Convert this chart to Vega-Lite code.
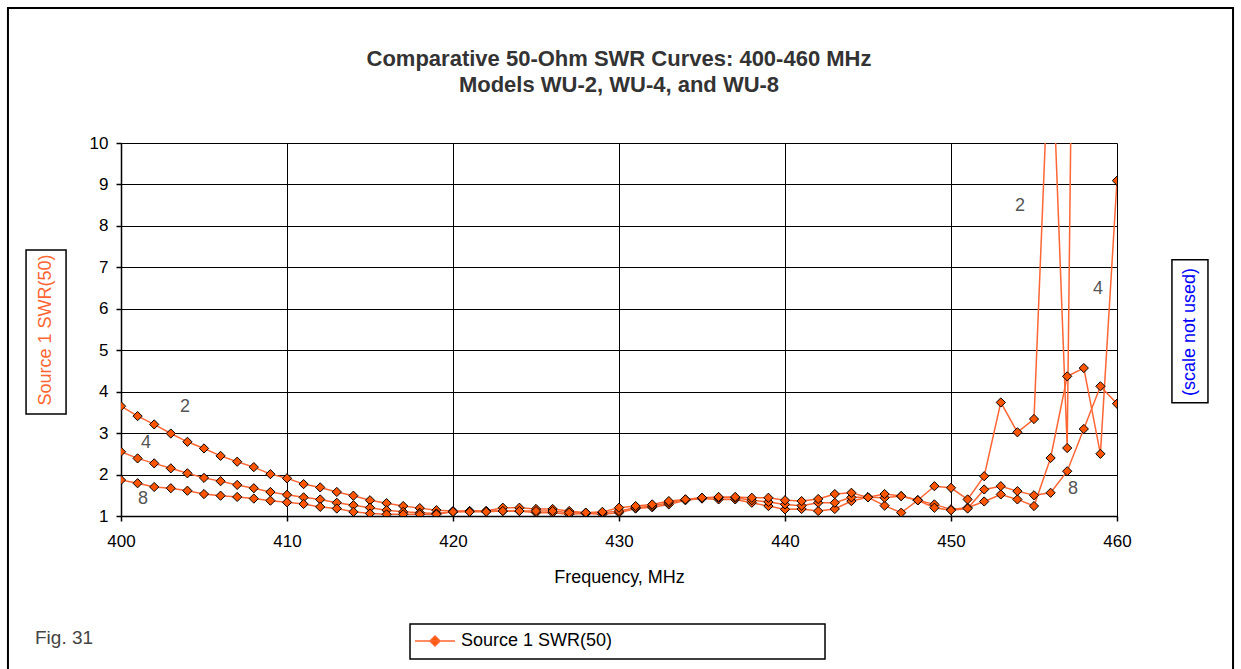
{
  "$schema": "https://vega.github.io/schema/vega-lite/v6.json",
  "autosize": {"type": "none"},
  "width": 996,
  "height": 373,
  "padding": {"left": 121, "top": 143, "right": 124, "bottom": 153},
  "background": "white",
  "title": {
    "text": ["Comparative 50-Ohm SWR Curves: 400-460 MHz", "Models WU-2, WU-4, and WU-8"],
    "font": "Liberation Sans",
    "fontSize": 22,
    "fontWeight": "bold",
    "color": "#333333",
    "lineHeight": 26,
    "anchor": "middle",
    "offset": -90
  },
  "config": {
    "view": {"stroke": null},
    "font": "Liberation Sans",
    "axis": {
      "labelFont": "Liberation Sans",
      "titleFont": "Liberation Sans",
      "labelFontSize": 17,
      "titleFontSize": 18,
      "titleFontWeight": "normal",
      "labelColor": "#000000",
      "titleColor": "#000000",
      "domainColor": "#000000",
      "tickColor": "#000000",
      "gridColor": "#000000",
      "gridOpacity": 1,
      "gridWidth": 1,
      "domainWidth": 1.5,
      "tickWidth": 1.5,
      "tickSize": 5,
      "labelFlush": false
    }
  },
  "datasets": {
    "swr": [
      {"model": "WU-2", "freq": 400, "swr": 3.65}, {"model": "WU-2", "freq": 401, "swr": 3.41}, {"model": "WU-2", "freq": 402, "swr": 3.21}, {"model": "WU-2", "freq": 403, "swr": 2.99}, {"model": "WU-2", "freq": 404, "swr": 2.79}, {"model": "WU-2", "freq": 405, "swr": 2.63}, {"model": "WU-2", "freq": 406, "swr": 2.45}, {"model": "WU-2", "freq": 407, "swr": 2.31}, {"model": "WU-2", "freq": 408, "swr": 2.18}, {"model": "WU-2", "freq": 409, "swr": 2.01},
      {"model": "WU-2", "freq": 410, "swr": 1.91}, {"model": "WU-2", "freq": 411, "swr": 1.77}, {"model": "WU-2", "freq": 412, "swr": 1.69}, {"model": "WU-2", "freq": 413, "swr": 1.58}, {"model": "WU-2", "freq": 414, "swr": 1.49}, {"model": "WU-2", "freq": 415, "swr": 1.38}, {"model": "WU-2", "freq": 416, "swr": 1.31}, {"model": "WU-2", "freq": 417, "swr": 1.24}, {"model": "WU-2", "freq": 418, "swr": 1.19}, {"model": "WU-2", "freq": 419, "swr": 1.14},
      {"model": "WU-2", "freq": 420, "swr": 1.12}, {"model": "WU-2", "freq": 421, "swr": 1.12}, {"model": "WU-2", "freq": 422, "swr": 1.12}, {"model": "WU-2", "freq": 423, "swr": 1.12}, {"model": "WU-2", "freq": 424, "swr": 1.12}, {"model": "WU-2", "freq": 425, "swr": 1.08}, {"model": "WU-2", "freq": 426, "swr": 1.08}, {"model": "WU-2", "freq": 427, "swr": 1.04}, {"model": "WU-2", "freq": 428, "swr": 1.06}, {"model": "WU-2", "freq": 429, "swr": 1.04},
      {"model": "WU-2", "freq": 430, "swr": 1.08}, {"model": "WU-2", "freq": 431, "swr": 1.18}, {"model": "WU-2", "freq": 432, "swr": 1.21}, {"model": "WU-2", "freq": 433, "swr": 1.28}, {"model": "WU-2", "freq": 434, "swr": 1.38}, {"model": "WU-2", "freq": 435, "swr": 1.42}, {"model": "WU-2", "freq": 436, "swr": 1.4}, {"model": "WU-2", "freq": 437, "swr": 1.4}, {"model": "WU-2", "freq": 438, "swr": 1.32}, {"model": "WU-2", "freq": 439, "swr": 1.24},
      {"model": "WU-2", "freq": 440, "swr": 1.16}, {"model": "WU-2", "freq": 441, "swr": 1.17}, {"model": "WU-2", "freq": 442, "swr": 1.12}, {"model": "WU-2", "freq": 443, "swr": 1.17}, {"model": "WU-2", "freq": 444, "swr": 1.36}, {"model": "WU-2", "freq": 445, "swr": 1.45}, {"model": "WU-2", "freq": 446, "swr": 1.25}, {"model": "WU-2", "freq": 447, "swr": 1.08}, {"model": "WU-2", "freq": 448, "swr": 1.38}, {"model": "WU-2", "freq": 449, "swr": 1.72},
      {"model": "WU-2", "freq": 450, "swr": 1.68}, {"model": "WU-2", "freq": 451, "swr": 1.4}, {"model": "WU-2", "freq": 452, "swr": 1.96}, {"model": "WU-2", "freq": 453, "swr": 3.74}, {"model": "WU-2", "freq": 454, "swr": 3.02}, {"model": "WU-2", "freq": 455, "swr": 3.34}, {"model": "WU-2", "freq": 456, "swr": 13.2}, {"model": "WU-2", "freq": 457, "swr": 2.64}, {"model": "WU-2", "freq": 458, "swr": 38}, {"model": "WU-2", "freq": 459, "swr": 40},
      {"model": "WU-2", "freq": 460, "swr": 42},
      {"model": "WU-4", "freq": 400, "swr": 2.55}, {"model": "WU-4", "freq": 401, "swr": 2.39}, {"model": "WU-4", "freq": 402, "swr": 2.27}, {"model": "WU-4", "freq": 403, "swr": 2.15}, {"model": "WU-4", "freq": 404, "swr": 2.03}, {"model": "WU-4", "freq": 405, "swr": 1.92}, {"model": "WU-4", "freq": 406, "swr": 1.84}, {"model": "WU-4", "freq": 407, "swr": 1.75}, {"model": "WU-4", "freq": 408, "swr": 1.67}, {"model": "WU-4", "freq": 409, "swr": 1.58},
      {"model": "WU-4", "freq": 410, "swr": 1.51}, {"model": "WU-4", "freq": 411, "swr": 1.45}, {"model": "WU-4", "freq": 412, "swr": 1.4}, {"model": "WU-4", "freq": 413, "swr": 1.32}, {"model": "WU-4", "freq": 414, "swr": 1.26}, {"model": "WU-4", "freq": 415, "swr": 1.2}, {"model": "WU-4", "freq": 416, "swr": 1.14}, {"model": "WU-4", "freq": 417, "swr": 1.1}, {"model": "WU-4", "freq": 418, "swr": 1.08}, {"model": "WU-4", "freq": 419, "swr": 1.06},
      {"model": "WU-4", "freq": 420, "swr": 1.1}, {"model": "WU-4", "freq": 421, "swr": 1.12}, {"model": "WU-4", "freq": 422, "swr": 1.12}, {"model": "WU-4", "freq": 423, "swr": 1.2}, {"model": "WU-4", "freq": 424, "swr": 1.2}, {"model": "WU-4", "freq": 425, "swr": 1.17}, {"model": "WU-4", "freq": 426, "swr": 1.17}, {"model": "WU-4", "freq": 427, "swr": 1.12}, {"model": "WU-4", "freq": 428, "swr": 1.08}, {"model": "WU-4", "freq": 429, "swr": 1.08},
      {"model": "WU-4", "freq": 430, "swr": 1.12}, {"model": "WU-4", "freq": 431, "swr": 1.2}, {"model": "WU-4", "freq": 432, "swr": 1.24}, {"model": "WU-4", "freq": 433, "swr": 1.32}, {"model": "WU-4", "freq": 434, "swr": 1.4}, {"model": "WU-4", "freq": 435, "swr": 1.44}, {"model": "WU-4", "freq": 436, "swr": 1.44}, {"model": "WU-4", "freq": 437, "swr": 1.44}, {"model": "WU-4", "freq": 438, "swr": 1.38}, {"model": "WU-4", "freq": 439, "swr": 1.34},
      {"model": "WU-4", "freq": 440, "swr": 1.28}, {"model": "WU-4", "freq": 441, "swr": 1.25}, {"model": "WU-4", "freq": 442, "swr": 1.32}, {"model": "WU-4", "freq": 443, "swr": 1.32}, {"model": "WU-4", "freq": 444, "swr": 1.45}, {"model": "WU-4", "freq": 445, "swr": 1.45}, {"model": "WU-4", "freq": 446, "swr": 1.44}, {"model": "WU-4", "freq": 447, "swr": 1.48}, {"model": "WU-4", "freq": 448, "swr": 1.38}, {"model": "WU-4", "freq": 449, "swr": 1.28},
      {"model": "WU-4", "freq": 450, "swr": 1.16}, {"model": "WU-4", "freq": 451, "swr": 1.2}, {"model": "WU-4", "freq": 452, "swr": 1.35}, {"model": "WU-4", "freq": 453, "swr": 1.52}, {"model": "WU-4", "freq": 454, "swr": 1.4}, {"model": "WU-4", "freq": 455, "swr": 1.24}, {"model": "WU-4", "freq": 456, "swr": 2.4}, {"model": "WU-4", "freq": 457, "swr": 4.37}, {"model": "WU-4", "freq": 458, "swr": 4.57}, {"model": "WU-4", "freq": 459, "swr": 2.5},
      {"model": "WU-4", "freq": 460, "swr": 9.09},
      {"model": "WU-8", "freq": 400, "swr": 1.87}, {"model": "WU-8", "freq": 401, "swr": 1.79}, {"model": "WU-8", "freq": 402, "swr": 1.7}, {"model": "WU-8", "freq": 403, "swr": 1.67}, {"model": "WU-8", "freq": 404, "swr": 1.61}, {"model": "WU-8", "freq": 405, "swr": 1.53}, {"model": "WU-8", "freq": 406, "swr": 1.49}, {"model": "WU-8", "freq": 407, "swr": 1.46}, {"model": "WU-8", "freq": 408, "swr": 1.42}, {"model": "WU-8", "freq": 409, "swr": 1.37},
      {"model": "WU-8", "freq": 410, "swr": 1.33}, {"model": "WU-8", "freq": 411, "swr": 1.29}, {"model": "WU-8", "freq": 412, "swr": 1.22}, {"model": "WU-8", "freq": 413, "swr": 1.18}, {"model": "WU-8", "freq": 414, "swr": 1.1}, {"model": "WU-8", "freq": 415, "swr": 1.06}, {"model": "WU-8", "freq": 416, "swr": 1.04}, {"model": "WU-8", "freq": 417, "swr": 1.04}, {"model": "WU-8", "freq": 418, "swr": 1.04}, {"model": "WU-8", "freq": 419, "swr": 1.04},
      {"model": "WU-8", "freq": 420, "swr": 1.1}, {"model": "WU-8", "freq": 421, "swr": 1.1}, {"model": "WU-8", "freq": 422, "swr": 1.1}, {"model": "WU-8", "freq": 423, "swr": 1.12}, {"model": "WU-8", "freq": 424, "swr": 1.12}, {"model": "WU-8", "freq": 425, "swr": 1.12}, {"model": "WU-8", "freq": 426, "swr": 1.12}, {"model": "WU-8", "freq": 427, "swr": 1.08}, {"model": "WU-8", "freq": 428, "swr": 1.08}, {"model": "WU-8", "freq": 429, "swr": 1.1},
      {"model": "WU-8", "freq": 430, "swr": 1.2}, {"model": "WU-8", "freq": 431, "swr": 1.24}, {"model": "WU-8", "freq": 432, "swr": 1.28}, {"model": "WU-8", "freq": 433, "swr": 1.36}, {"model": "WU-8", "freq": 434, "swr": 1.4}, {"model": "WU-8", "freq": 435, "swr": 1.44}, {"model": "WU-8", "freq": 436, "swr": 1.46}, {"model": "WU-8", "freq": 437, "swr": 1.46}, {"model": "WU-8", "freq": 438, "swr": 1.44}, {"model": "WU-8", "freq": 439, "swr": 1.44},
      {"model": "WU-8", "freq": 440, "swr": 1.38}, {"model": "WU-8", "freq": 441, "swr": 1.36}, {"model": "WU-8", "freq": 442, "swr": 1.41}, {"model": "WU-8", "freq": 443, "swr": 1.53}, {"model": "WU-8", "freq": 444, "swr": 1.56}, {"model": "WU-8", "freq": 445, "swr": 1.45}, {"model": "WU-8", "freq": 446, "swr": 1.53}, {"model": "WU-8", "freq": 447, "swr": 1.48}, {"model": "WU-8", "freq": 448, "swr": 1.38}, {"model": "WU-8", "freq": 449, "swr": 1.2},
      {"model": "WU-8", "freq": 450, "swr": 1.14}, {"model": "WU-8", "freq": 451, "swr": 1.18}, {"model": "WU-8", "freq": 452, "swr": 1.64}, {"model": "WU-8", "freq": 453, "swr": 1.72}, {"model": "WU-8", "freq": 454, "swr": 1.6}, {"model": "WU-8", "freq": 455, "swr": 1.5}, {"model": "WU-8", "freq": 456, "swr": 1.56}, {"model": "WU-8", "freq": 457, "swr": 2.08}, {"model": "WU-8", "freq": 458, "swr": 3.1}, {"model": "WU-8", "freq": 459, "swr": 4.13},
      {"model": "WU-8", "freq": 460, "swr": 3.71}
    ],
    "labels": [
      {"label": "2", "freq": 403.86, "swr": 3.64},
      {"label": "4", "freq": 401.5, "swr": 2.77},
      {"label": "8", "freq": 401.33, "swr": 1.4},
      {"label": "2", "freq": 454.16, "swr": 8.48},
      {"label": "4", "freq": 458.86, "swr": 6.48},
      {"label": "8", "freq": 457.35, "swr": 1.64}
    ]
  },
  "layer": [
    {
      "data": {"values": [{}]},
      "mark": {"type": "rect", "fill": null, "stroke": "#000000", "strokeWidth": 2, "clip": false},
      "encoding": {
        "x": {"datum": 393.19, "type": "quantitative"},
        "x2": {"datum": 466.99},
        "y": {"datum": 13.26, "type": "quantitative"},
        "y2": {"datum": -2.8}
      }
    },
    {
      "data": {"values": [{}]},
      "mark": {"type": "rect", "fill": null, "stroke": "#000000", "strokeWidth": 1.5, "clip": false},
      "encoding": {
        "x": {"datum": 394.28, "type": "quantitative"},
        "x2": {"datum": 396.69},
        "y": {"datum": 7.42, "type": "quantitative"},
        "y2": {"datum": 3.46}
      }
    },
    {
      "data": {"values": [{}]},
      "mark": {"type": "rect", "fill": null, "stroke": "#000000", "strokeWidth": 1.5, "clip": false},
      "encoding": {
        "x": {"datum": 463.31, "type": "quantitative"},
        "x2": {"datum": 465.48},
        "y": {"datum": 7.18, "type": "quantitative"},
        "y2": {"datum": 3.73}
      }
    },
    {
      "data": {"values": [{}]},
      "mark": {"type": "rect", "fill": null, "stroke": "#000000", "strokeWidth": 1.5, "clip": false},
      "encoding": {
        "x": {"datum": 417.41, "type": "quantitative"},
        "x2": {"datum": 442.41},
        "y": {"datum": -1.606, "type": "quantitative"},
        "y2": {"datum": -2.451}
      }
    },
    {
      "data": {"values": [{}]},
      "mark": {"type": "text", "text": "(scale not used)", "angle": 270, "color": "#0000FF", "font": "Liberation Sans", "fontSize": 18, "align": "center", "baseline": "middle", "clip": false},
      "encoding": {
        "x": {"datum": 464.4, "type": "quantitative"},
        "y": {"datum": 5.44, "type": "quantitative"}
      }
    },
    {
      "data": {"values": [{}]},
      "mark": {"type": "text", "text": "Fig. 31", "color": "#444444", "font": "Liberation Sans", "fontSize": 19, "align": "left", "baseline": "middle", "clip": false},
      "encoding": {
        "x": {"datum": 394.82, "type": "quantitative"},
        "y": {"datum": -1.94, "type": "quantitative"}
      }
    },
    {
      "data": {"name": "swr"},
      "mark": {"type": "line", "strokeWidth": 1.5, "clip": true},
      "encoding": {
        "x": {
          "field": "freq", "type": "quantitative",
          "scale": {"domain": [400, 460], "nice": false, "zero": false},
          "axis": {"values": [400, 410, 420, 430, 440, 450, 460], "grid": true, "title": "Frequency, MHz", "titlePadding": 19, "labelPadding": 12}
        },
        "y": {
          "field": "swr", "type": "quantitative",
          "scale": {"domain": [1, 10], "nice": false, "zero": false},
          "axis": {"values": [1, 2, 3, 4, 5, 6, 7, 8, 9, 10], "grid": true, "title": "Source 1 SWR(50)", "titleColor": "#FF6633", "titlePadding": 35, "labelPadding": 8}
        },
        "detail": {"field": "model"},
        "color": {
          "datum": "Source 1 SWR(50)",
          "scale": {"range": ["#FF6633"]},
          "legend": {
            "title": null,
            "orient": "none",
            "legendX": 289,
            "legendY": 481,
            "padding": 8,
            "labelFont": "Liberation Sans",
            "labelFontSize": 18,
            "labelColor": "#000000",
            "labelLimit": 1000,
            "symbolType": "M-4,0L4,0M-1,0L0,-1L1,0L0,1Z",
            "symbolSize": 100,
            "symbolStrokeWidth": 1.5,
            "symbolFillColor": "#FF5500",
            "symbolOffset": 8,
            "labelOffset": 17
          }
        }
      }
    },
    {
      "data": {"name": "swr"},
      "mark": {"type": "point", "shape": "diamond", "size": 85, "filled": true, "fill": "#FF5500", "stroke": "#000000", "strokeWidth": 1, "opacity": 1, "clip": true},
      "encoding": {
        "x": {"field": "freq", "type": "quantitative"},
        "y": {"field": "swr", "type": "quantitative"},
        "detail": {"field": "model"}
      }
    },
    {
      "data": {"name": "labels"},
      "mark": {"type": "text", "color": "#555555", "font": "Liberation Sans", "fontSize": 18, "align": "center", "baseline": "middle"},
      "encoding": {
        "x": {"field": "freq", "type": "quantitative"},
        "y": {"field": "swr", "type": "quantitative"},
        "text": {"field": "label"}
      }
    }
  ]
}
